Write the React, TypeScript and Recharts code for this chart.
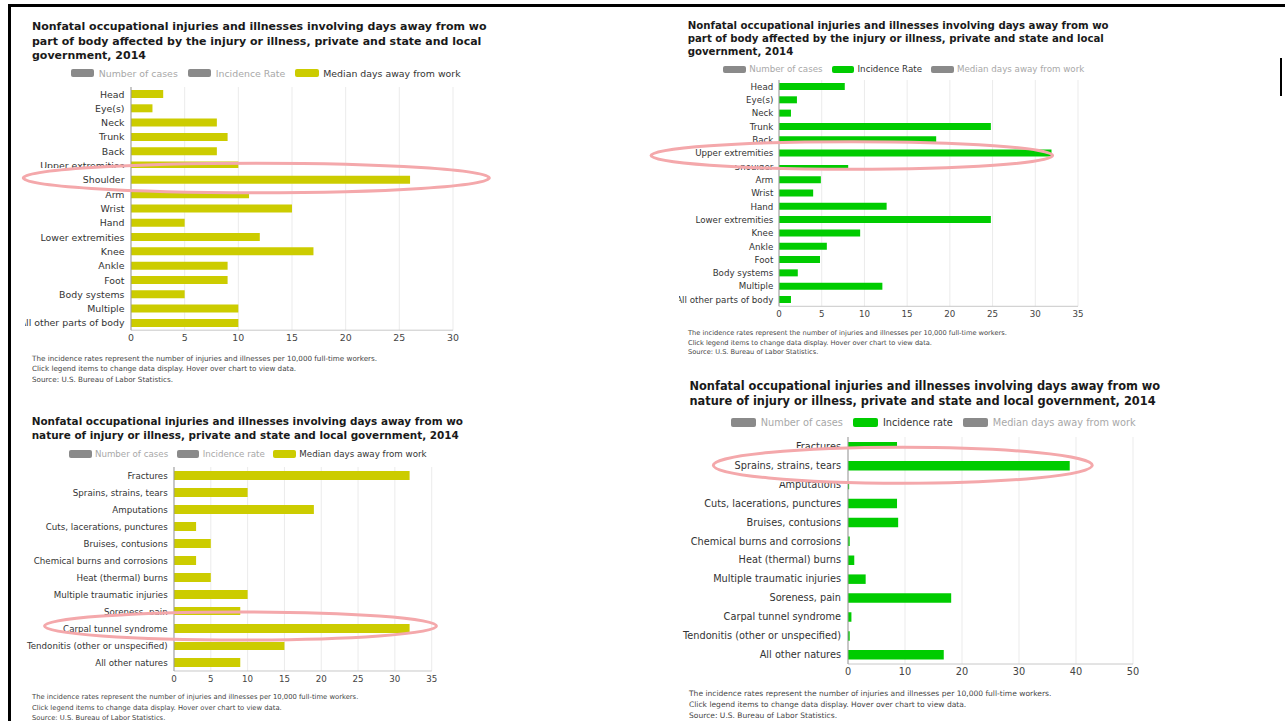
import React from "react";
import { BarChart, Bar, XAxis, YAxis, CartesianGrid, Cell } from "recharts";

const FONT = "'DejaVu Sans', Verdana, sans-serif";
const YELLOW = "#cccc00";
const GREEN = "#00cc00";
const INACTIVE = "#8a8a8a";
const PINK = "#f4a8ab";

// part of body
const bodyParts = [
  "Head",
  "Eye(s)",
  "Neck",
  "Trunk",
  "Back",
  "Upper extremities",
  "Shoulder",
  "Arm",
  "Wrist",
  "Hand",
  "Lower extremities",
  "Knee",
  "Ankle",
  "Foot",
  "Body systems",
  "Multiple",
  "All other parts of body",
];
const bodyMedianDays = [3, 2, 8, 9, 8, 10, 26, 11, 15, 5, 12, 17, 9, 9, 5, 10, 10];
const bodyIncidenceRate = [7.7, 2.1, 1.4, 24.8, 18.4, 31.9, 8.1, 4.9, 4.0, 12.6, 24.8, 9.5, 5.6, 4.8, 2.2, 12.1, 1.4];

// nature of injury
const natures = [
  "Fractures",
  "Sprains, strains, tears",
  "Amputations",
  "Cuts, lacerations, punctures",
  "Bruises, contusions",
  "Chemical burns and corrosions",
  "Heat (thermal) burns",
  "Multiple traumatic injuries",
  "Soreness, pain",
  "Carpal tunnel syndrome",
  "Tendonitis (other or unspecified)",
  "All other natures",
];
const natureMedianDays = [32, 10, 19, 3, 5, 3, 5, 10, 9, 32, 15, 9];
const natureIncidenceRate = [8.6, 38.9, 0.2, 8.6, 8.8, 0.3, 1.1, 3.1, 18.1, 0.6, 0.3, 16.8];

const bodyDaysTicks = [0, 5, 10, 15, 20, 25, 30];
const bodyRateTicks = [0, 5, 10, 15, 20, 25, 30, 35];
const natureDaysTicks = [0, 5, 10, 15, 20, 25, 30, 35];
const natureRateTicks = [0, 10, 20, 30, 40, 50];

const bodyTitle = [
  "Nonfatal occupational injuries and illnesses involving days away from wo",
  "part of body affected by the injury or illness, private and state and local",
  "government, 2014",
];
const natureTitle = [
  "Nonfatal occupational injuries and illnesses involving days away from wo",
  "nature of injury or illness, private and state and local government, 2014",
];
const bodyLegend = ["Number of cases", "Incidence Rate", "Median days away from work"];
const natureLegend = ["Number of cases", "Incidence rate", "Median days away from work"];
const footnote = [
  "The incidence rates represent the number of injuries and illnesses per 10,000 full-time workers.",
  "Click legend items to change data display. Hover over chart to view data.",
  "Source: U.S. Bureau of Labor Statistics.",
];

type Box = { x: number; y: number; w: number; h: number };
type PanelCfg = {
  clip: Box;
  titleLines: string[];
  titleX: number;
  titleYs: number[];
  titleSize: number;
  legendLabels: string[];
  active: number;
  legendX: number;
  legendY: number;
  legendSize: number;
  swatch: [number, number];
  swGap: number;
  itemGap: number;
  categories: string[];
  values: number[];
  ticks: number[];
  color: string;
  plot: { left: number; right: number; top: number; bottom: number };
  barSize: number;
  axisFont: number;
  labelGap: number;
  footX: number;
  footYs: number[];
  footSize: number;
  highlight: number;
  stripHalf: number;
  ring: { cx: number; cy: number; rx: number; ry: number };
};

const panels: PanelCfg[] = [
  {
    clip: { x: 25, y: 8, w: 470, h: 385 },
    titleLines: bodyTitle,
    titleX: 32,
    titleYs: [26.5, 41.5, 55.8],
    titleSize: 11,
    legendLabels: bodyLegend,
    active: 2,
    legendX: 70.7,
    legendY: 73.3,
    legendSize: 9.4,
    swatch: [23.6, 8],
    swGap: 4.4,
    itemGap: 10,
    categories: bodyParts,
    values: bodyMedianDays,
    ticks: bodyDaysTicks,
    color: YELLOW,
    plot: { left: 131, right: 453, top: 87, bottom: 330.2 },
    barSize: 8,
    axisFont: 9.4,
    labelGap: 6.5,
    footX: 32,
    footYs: [359, 369, 379.5],
    footSize: 7.2,
    highlight: 6,
    stripHalf: 12,
    ring: { cx: 256.3, cy: 178, rx: 233, ry: 14.7 },
  },
  {
    clip: { x: 679, y: 8, w: 480, h: 360 },
    titleLines: bodyTitle,
    titleX: 687.7,
    titleYs: [25.5, 38.8, 52.2],
    titleSize: 10.2,
    legendLabels: bodyLegend,
    active: 1,
    legendX: 723.3,
    legendY: 69.3,
    legendSize: 8.7,
    swatch: [22.7, 7.5],
    swGap: 3.3,
    itemGap: 9,
    categories: bodyParts,
    values: bodyIncidenceRate,
    ticks: bodyRateTicks,
    color: GREEN,
    plot: { left: 779, right: 1078, top: 80.3, bottom: 306.6 },
    barSize: 7,
    axisFont: 8.7,
    labelGap: 5.7,
    footX: 688,
    footYs: [333.3, 343, 352.3],
    footSize: 6.65,
    highlight: 5,
    stripHalf: 11.2,
    ring: { cx: 851.8, cy: 155.5, rx: 200.8, ry: 13.8 },
  },
  {
    clip: { x: 25, y: 400, w: 470, h: 321 },
    titleLines: natureTitle,
    titleX: 31.7,
    titleYs: [421.2, 434.7],
    titleSize: 10.45,
    legendLabels: natureLegend,
    active: 2,
    legendX: 69,
    legendY: 454,
    legendSize: 8.7,
    swatch: [22.6, 7.5],
    swGap: 3.3,
    itemGap: 8.6,
    categories: natures,
    values: natureMedianDays,
    ticks: natureDaysTicks,
    color: YELLOW,
    plot: { left: 174, right: 431.7, top: 466.5, bottom: 670.5 },
    barSize: 9,
    axisFont: 8.7,
    labelGap: 6.3,
    footX: 32,
    footYs: [697.3, 707.7, 717.7],
    footSize: 6.8,
    highlight: 9,
    stripHalf: 13.5,
    ring: { cx: 240.5, cy: 626, rx: 196, ry: 14 },
  },
  {
    clip: { x: 680, y: 370, w: 490, h: 351 },
    titleLines: natureTitle,
    titleX: 689.5,
    titleYs: [385.7, 401],
    titleSize: 11.4,
    legendLabels: natureLegend,
    active: 1,
    legendX: 730.7,
    legendY: 422.3,
    legendSize: 9.75,
    swatch: [25, 9],
    swGap: 5,
    itemGap: 10,
    categories: natures,
    values: natureIncidenceRate,
    ticks: natureRateTicks,
    color: GREEN,
    plot: { left: 848, right: 1133, top: 436.5, bottom: 663.5 },
    barSize: 9.5,
    axisFont: 9.75,
    labelGap: 7,
    footX: 689,
    footYs: [694.3, 705, 715.7],
    footSize: 7.55,
    highlight: 1,
    stripHalf: 17,
    ring: { cx: 902.8, cy: 465.3, rx: 189.5, ry: 18 },
  },
];

const YW = 200; // room for category labels
const XH = 24;
const RM = 24;

// only: when set, draw just that row (used for the raised strip)
function ChartBody({ c, only }: { c: PanelCfg; only?: number }) {
  const data = c.categories.map((name, i) => ({ name, value: c.values[i] }));
  const plotW = c.plot.right - c.plot.left;
  const plotH = c.plot.bottom - c.plot.top;
  const max = c.ticks[c.ticks.length - 1];
  const solo = only !== undefined;

  // eslint-disable-next-line @typescript-eslint/no-explicit-any
  const yTick = (p: any) =>
    solo && p.payload.value !== c.categories[only as number] ? (
      <g />
    ) : (
      <text x={p.x} y={p.y} dy="0.36em" textAnchor="end" fontSize={c.axisFont} fontFamily={FONT} fill="#333">
        {p.payload.value}
      </text>
    );
  // eslint-disable-next-line @typescript-eslint/no-explicit-any
  const xTick = (p: any) =>
    solo ? (
      <g />
    ) : (
      <text x={p.x} y={p.y} dy="0.71em" textAnchor="middle" fontSize={c.axisFont} fontFamily={FONT} fill="#444">
        {p.payload.value}
      </text>
    );

  return (
    <BarChart
      width={YW + plotW + RM}
      height={plotH + XH}
      data={data}
      layout="vertical"
      margin={{ top: 0, right: RM, bottom: 0, left: 0 }}
    >
      <CartesianGrid horizontal={false} stroke="#ebebeb" />
      <XAxis
        type="number"
        domain={[0, max]}
        ticks={c.ticks}
        interval={0}
        height={XH}
        tickLine={false}
        tickSize={0}
        tickMargin={4.5}
        axisLine={{ stroke: "#c8c8c8" }}
        tick={xTick}
      />
      <YAxis
        type="category"
        dataKey="name"
        width={YW}
        interval={0}
        tickLine={false}
        tickSize={0}
        tickMargin={c.labelGap}
        axisLine={{ stroke: "#999" }}
        tick={yTick}
      />
      <Bar dataKey="value" fill={c.color} barSize={c.barSize} isAnimationActive={false}>
        {data.map((d, i) => (
          <Cell key={d.name} fill={!solo || i === only ? c.color : "transparent"} />
        ))}
      </Bar>
    </BarChart>
  );
}

function Panel({ c }: { c: PanelCfg }) {
  const { clip } = c;
  const step = (c.plot.bottom - c.plot.top) / c.categories.length;
  const stripTop = c.plot.top + (c.highlight + 0.5) * step - c.stripHalf;
  const chartLeft = c.plot.left - YW - clip.x;
  const chartTop = c.plot.top - clip.y;

  return (
    <div style={{ position: "absolute", left: clip.x, top: clip.y, width: clip.w, height: clip.h, overflow: "hidden" }}>
      {c.titleLines.map((t, i) => (
        <div
          key={i}
          style={{
            position: "absolute",
            left: c.titleX - clip.x,
            top: c.titleYs[i] - clip.y - 8,
            height: 16,
            lineHeight: "16px",
            fontSize: c.titleSize,
            fontWeight: "bold",
            whiteSpace: "nowrap",
            color: "#1a1a1a",
          }}
        >
          {t}
        </div>
      ))}

      <div
        style={{
          position: "absolute",
          left: c.legendX - clip.x,
          top: c.legendY - clip.y - 8,
          height: 16,
          display: "flex",
          alignItems: "center",
          whiteSpace: "nowrap",
          fontSize: c.legendSize,
        }}
      >
        {c.legendLabels.map((label, i) => (
          <div key={label} style={{ display: "flex", alignItems: "center", marginRight: c.itemGap }}>
            <span
              style={{
                display: "inline-block",
                width: c.swatch[0],
                height: c.swatch[1],
                borderRadius: 2,
                background: i === c.active ? c.color : INACTIVE,
                marginRight: c.swGap,
              }}
            />
            <span style={{ color: i === c.active ? "#333" : "#a8a8a8" }}>{label}</span>
          </div>
        ))}
      </div>

      <div style={{ position: "absolute", left: chartLeft, top: chartTop }}>
        <ChartBody c={c} />
      </div>

      {/* raised strip over the highlighted row */}
      <div
        style={{
          position: "absolute",
          left: 0,
          top: stripTop - clip.y,
          width: clip.w,
          height: c.stripHalf * 2,
          overflow: "hidden",
          background: "#fff",
        }}
      >
        <div style={{ position: "absolute", left: chartLeft, top: chartTop - (stripTop - clip.y) }}>
          <ChartBody c={c} only={c.highlight} />
        </div>
      </div>

      {footnote.map((t, i) => (
        <div
          key={i}
          style={{
            position: "absolute",
            left: c.footX - clip.x,
            top: c.footYs[i] - clip.y - 6,
            height: 12,
            lineHeight: "12px",
            fontSize: c.footSize,
            whiteSpace: "nowrap",
            color: "#444",
          }}
        >
          {t}
        </div>
      ))}
    </div>
  );
}

export default function App() {
  return (
    <div
      style={{
        position: "absolute",
        left: 0,
        top: 0,
        width: 1285,
        height: 721,
        overflow: "hidden",
        background: "#fff",
        fontFamily: FONT,
      }}
    >
      {/* frame */}
      <div style={{ position: "absolute", left: 8, top: 4, width: 1277, height: 3, background: "#000" }} />
      <div style={{ position: "absolute", left: 8, top: 4, width: 3, height: 717, background: "#000" }} />
      <div style={{ position: "absolute", left: 1280, top: 58, width: 2, height: 38, background: "#000" }} />

      {panels.map((c, i) => (
        <Panel key={i} c={c} />
      ))}

      <svg width={1285} height={721} style={{ position: "absolute", left: 0, top: 0, pointerEvents: "none" }}>
        {panels.map((c, i) => (
          <ellipse
            key={i}
            cx={c.ring.cx}
            cy={c.ring.cy}
            rx={c.ring.rx}
            ry={c.ring.ry}
            fill="none"
            stroke={PINK}
            strokeWidth={3}
          />
        ))}
      </svg>
    </div>
  );
}
